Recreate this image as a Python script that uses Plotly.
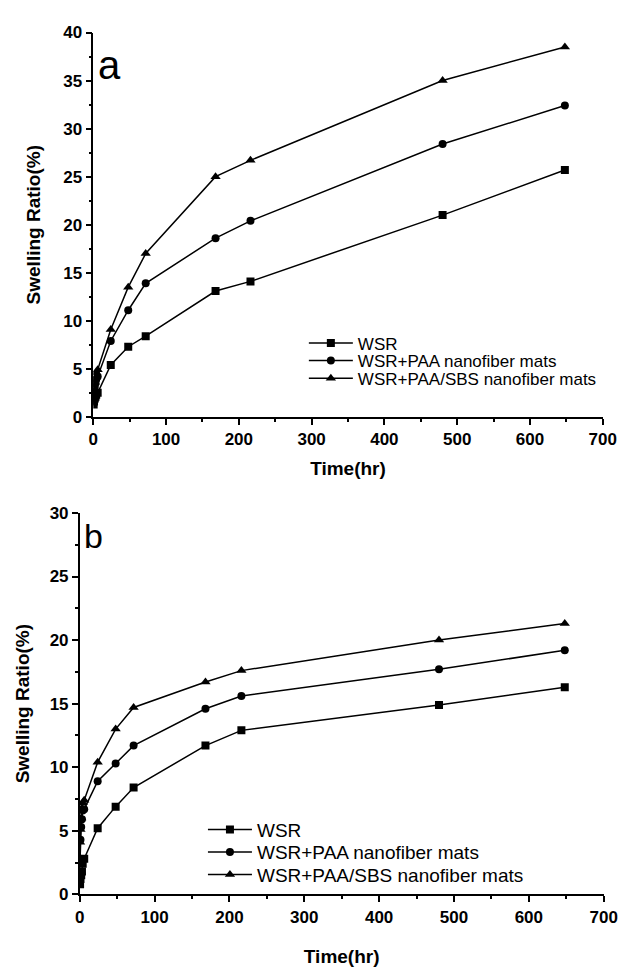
import plotly.graph_objects as go

time_a = [0.5, 1, 2, 3, 4, 6, 24, 48, 72, 168, 216, 480, 648]
wsr_a = [1.3, 1.6, 1.9, 2.1, 2.3, 2.5, 5.4, 7.3, 8.4, 13.1, 14.1, 21.0, 25.7]
paa_a = [2.0, 2.6, 3.1, 3.5, 3.9, 4.2, 7.9, 11.1, 13.9, 18.6, 20.4, 28.4, 32.4]
sbs_a = [2.4, 3.0, 3.6, 4.1, 4.6, 4.9, 9.1, 13.5, 17.0, 25.0, 26.7, 35.0, 38.5]

time_b = [0.5, 1, 2, 3, 4, 6, 24, 48, 72, 168, 216, 480, 648]
wsr_b = [0.8, 1.2, 1.5, 1.8, 2.4, 2.8, 5.2, 6.9, 8.4, 11.7, 12.9, 14.9, 16.3]
paa_b = [2.8, 4.3, 5.3, 5.9, 6.6, 6.7, 8.9, 10.3, 11.7, 14.6, 15.6, 17.7, 19.2]
sbs_b = [4.1, 5.1, 6.0, 6.8, 7.2, 7.4, 10.4, 13.0, 14.7, 16.7, 17.6, 20.0, 21.3]

names = ["WSR", "WSR+PAA nanofiber mats", "WSR+PAA/SBS nanofiber mats"]
symbols = ["square", "circle", "triangle-up"]

FONT = "Arial, Liberation Sans, sans-serif"
W, H = 640, 973
def fx(px): return px / W
def fy(py): return 1 - py / H

fig = go.Figure()

legend_ids_a = ["legend2", "legend3", "legend4"]
legend_ids_b = ["legend5", "legend6", "legend7"]

for ys, nm, sym, lg in zip([wsr_a, paa_a, sbs_a], names, symbols, legend_ids_a):
    fig.add_trace(go.Scatter(x=time_a, y=ys, name=nm, mode="lines+markers",
                             line=dict(color="black", width=1.5),
                             marker=dict(symbol=sym, size=8 if sym != "triangle-up" else 9, color="black"),
                             xaxis="x", yaxis="y", legend=lg))
for ys, nm, sym, lg in zip([wsr_b, paa_b, sbs_b], names, symbols, legend_ids_b):
    fig.add_trace(go.Scatter(x=time_b, y=ys, name=nm, mode="lines+markers",
                             line=dict(color="black", width=1.5),
                             marker=dict(symbol=sym, size=8 if sym != "triangle-up" else 9, color="black"),
                             xaxis="x2", yaxis="y2", legend=lg))

axis_common = dict(showline=True, linecolor="black", linewidth=1.5, ticks="outside",
                   ticklen=6, tickwidth=1.5, tickcolor="black", showgrid=False, zeroline=False,
                   tickfont=dict(family=FONT, size=17, color="black", weight="bold"),
                   mirror=False)
minor_x = dict(dtick=50, ticklen=3, ticks="outside", tickcolor="black", tickwidth=1.5)
minor_y = dict(dtick=2.5, ticklen=3, ticks="outside", tickcolor="black", tickwidth=1.5)
title_font = dict(family=FONT, size=19, color="black", weight="bold")

def leg(xpx, ypx, size):
    return dict(x=fx(xpx), y=fy(ypx), xanchor="left", yanchor="middle",
                bgcolor="rgba(0,0,0,0)", font=dict(family=FONT, size=size, color="black"),
                itemwidth=44, borderwidth=0)

layout = dict(
    width=W, height=H, margin=dict(l=0, r=0, t=0, b=0),
    paper_bgcolor="white", plot_bgcolor="white",
    font=dict(family=FONT, color="black"),
    showlegend=True,
    xaxis=dict(domain=[fx(91), fx(616)], range=[0, 700], dtick=100, anchor="y", minor=minor_x,
               title=dict(text="Time(hr)", font=title_font, standoff=14), **axis_common),
    yaxis=dict(domain=[fy(416), fy(24)], range=[0, 40], dtick=5, anchor="x", minor=minor_y,
               title=dict(text="Swelling Ratio(%)", font=title_font, standoff=18), **axis_common),
    xaxis2=dict(domain=[fx(77), fx(617)], range=[0, 700], dtick=100, anchor="y2", minor=minor_x,
                title=dict(text="Time(hr)", font=title_font, standoff=24), **axis_common),
    yaxis2=dict(domain=[fy(903), fy(514)], range=[0, 30], dtick=5, anchor="x2", minor=minor_y,
                title=dict(text="Swelling Ratio(%)", font=title_font, standoff=15), **axis_common),
    annotations=[
        dict(text="a", x=fx(94), y=fy(57), xref="paper", yref="paper", xanchor="left", yanchor="middle",
             showarrow=False, font=dict(family=FONT, size=40, color="black")),
        dict(text="b", x=fx(79), y=fy(538), xref="paper", yref="paper", xanchor="left", yanchor="middle",
             showarrow=False, font=dict(family=FONT, size=34, color="black")),
    ],
)
for lg, ypx in zip(legend_ids_a, [341, 359, 377]):
    layout[lg] = leg(308, ypx, 17)
for lg, ypx in zip(legend_ids_b, [837, 860, 883]):
    layout[lg] = leg(204, ypx, 19)

fig.update_layout(**layout)
fig.write_html("out.html")
